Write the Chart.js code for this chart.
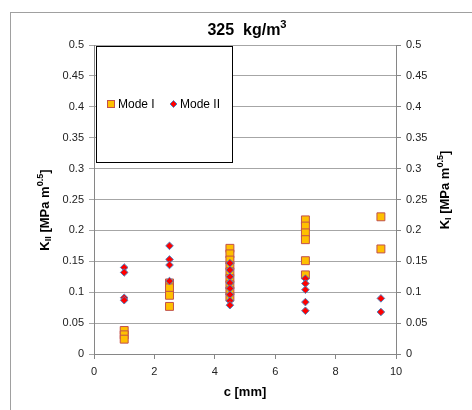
<!DOCTYPE html>
<html>
<head>
<meta charset="utf-8">
<script src="https://cdn.jsdelivr.net/npm/chart.js@4.4.0/dist/chart.umd.min.js"></script>
<style>
  html, body { margin: 0; padding: 0; background: #fff; }
  #wrap { width: 472px; height: 410px; position: relative; }
</style>
</head>
<body>
<div id="wrap"><canvas id="mycanvas" width="472" height="410"></canvas></div>
<script>
// crack length c [mm] and stress intensity values
var modeIX = [1, 1, 1,
	2.5, 2.5, 2.5, 2.5,
	4.5, 4.5, 4.5, 4.5, 4.5, 4.5, 4.5, 4.5, 4.5,
	7, 7, 7, 7, 7, 7,
	9.5, 9.5];
var modeIY = [0.038, 0.031, 0.024,
	0.115, 0.107, 0.095, 0.077,
	0.171, 0.162, 0.152, 0.143, 0.133, 0.122, 0.112, 0.102, 0.092,
	0.217, 0.207, 0.196, 0.185, 0.151, 0.128,
	0.222, 0.170];

var modeIIX = [1, 1, 1, 1,
	2.5, 2.5, 2.5, 2.5,
	4.5, 4.5, 4.5, 4.5, 4.5, 4.5, 4.5, 4.5,
	7, 7, 7, 7, 7,
	9.5, 9.5];
var modeIIY = [0.140, 0.132, 0.091, 0.087,
	0.175, 0.153, 0.144, 0.118,
	0.147, 0.136, 0.125, 0.115, 0.106, 0.096, 0.086, 0.079,
	0.122, 0.114, 0.104, 0.084, 0.070,
	0.090, 0.068];

var xTicks = [0, 2, 4, 6, 8, 10];
var yTickLabels = ['0', '0.05', '0.1', '0.15', '0.2', '0.25', '0.3', '0.35', '0.4', '0.45', '0.5'];
var seriesNames = ['Mode I', 'Mode II'];

var FONT = "'Liberation Sans', Arial, sans-serif";

function toPoints(xs, ys) {
	var pts = [];
	for (var i in xs) {
		pts.push({x: xs[i], y: ys[i]});
	}
	return pts;
}

function yLabel(value) {
	var idx = Math.round(value / 0.05);
	return yTickLabels[idx] !== undefined ? yTickLabels[idx] : '';
}

// text with sub/superscripts, centred on (x, y), optionally rotated
function drawRich(ctx, parts, x, y, size, rotate) {
	ctx.save();
	ctx.translate(x, y);
	if (rotate) ctx.rotate(-Math.PI / 2);
	var total = 0;
	parts.forEach(function(p) {
		var fs = p.s ? size * 0.7 : size;
		ctx.font = 'bold ' + fs + 'px ' + FONT;
		p.w = ctx.measureText(p.t).width;
		total += p.w;
	});
	var cx = -total / 2;
	ctx.fillStyle = '#000';
	ctx.textBaseline = 'middle';
	ctx.textAlign = 'left';
	parts.forEach(function(p) {
		var fs = p.s ? size * 0.7 : size;
		ctx.font = 'bold ' + fs + 'px ' + FONT;
		var dy = p.s === -1 ? size * 0.3 : (p.s === 1 ? -size * 0.35 : 0);
		ctx.fillText(p.t, cx, dy);
		cx += p.w;
	});
	ctx.restore();
}

var decor = {
	id: 'decor',
	beforeDraw: function(chart) {
		var ctx = chart.ctx;
		ctx.save();
		ctx.strokeStyle = '#a0a0a0';
		ctx.lineWidth = 1;
		ctx.strokeRect(10.5, 12.5, 480, 420);
		ctx.restore();
	},
	afterDatasetsDraw: function(chart) {
		var ctx = chart.ctx;
		ctx.save();
		// legend box
		ctx.fillStyle = '#fff';
		ctx.fillRect(96, 46, 136, 116);
		ctx.strokeStyle = '#000';
		ctx.lineWidth = 1;
		ctx.strokeRect(96.5, 46.5, 136, 116);
		var ly = 104;
		var ds = chart.data.datasets;
		// Mode I marker
		ctx.fillStyle = ds[0].backgroundColor;
		ctx.strokeStyle = ds[0].borderColor;
		ctx.fillRect(107, ly - 4, 8, 8);
		ctx.strokeRect(107.5, ly - 3.5, 7, 7);
		ctx.fillStyle = '#000';
		ctx.font = '12px ' + FONT;
		ctx.textBaseline = 'middle';
		ctx.fillText(ds[0].label, 118, ly + 1);
		// Mode II marker
		ctx.beginPath();
		ctx.moveTo(173.5, ly - 3.5);
		ctx.lineTo(177, ly);
		ctx.lineTo(173.5, ly + 3.5);
		ctx.lineTo(170, ly);
		ctx.closePath();
		ctx.fillStyle = ds[1].backgroundColor;
		ctx.fill();
		ctx.strokeStyle = ds[1].borderColor;
		ctx.stroke();
		ctx.fillStyle = '#000';
		ctx.fillText(ds[1].label, 180, ly + 1);
		ctx.restore();
	},
	afterDraw: function(chart) {
		var ctx = chart.ctx;
		// chart title
		drawRich(ctx, [{t: '325  kg/m'}, {t: '3', s: 1}], 247, 31, 16, false);
		// axis titles
		drawRich(ctx, [{t: 'K'}, {t: 'II', s: -1}, {t: ' [MPa m'}, {t: '0.5', s: 1}, {t: ']'}], 45, 210, 13, true);
		drawRich(ctx, [{t: 'K'}, {t: 'I', s: -1}, {t: ' [MPa m'}, {t: '0.5', s: 1}, {t: ']'}], 445, 190, 13, true);
		drawRich(ctx, [{t: 'c [mm]'}], 245, 392, 13, false);
	}
};

var chartdata = {
	datasets: [
		{
			label: seriesNames[0],
			data: toPoints(modeIX, modeIY),
			backgroundColor: '#FFC000',
			borderColor: '#C0504D',
			borderWidth: 1,
			pointStyle: 'rect',
			pointRadius: 5.6,
			pointHoverRadius: 5.6,
			yAxisID: 'y',
			order: 2
		},
		{
			label: seriesNames[1],
			data: toPoints(modeIIX, modeIIY),
			backgroundColor: '#FF0000',
			borderColor: '#4F81BD',
			borderWidth: 1,
			pointStyle: 'rectRot',
			pointRadius: 3.8,
			pointHoverRadius: 3.8,
			yAxisID: 'y',
			order: 1
		}
	]
};

var ctx = document.getElementById('mycanvas');

var scatter = new Chart(ctx, {
	type: 'scatter',
	data: chartdata,
	plugins: [decor],
	options: {
		responsive: false,
		animation: false,
		devicePixelRatio: 1,
		layout: { padding: { left: 0, right: 0, top: 45, bottom: 0 } },
		plugins: {
			legend: { display: false },
			tooltip: { enabled: false }
		},
		scales: {
			x: {
				type: 'linear',
				min: 0,
				max: 10,
				afterBuildTicks: function(scale) {
					scale.ticks = xTicks.map(function(v) { return {value: v}; });
				},
				afterFit: function(scale) { scale.height = 56; },
				grid: { display: true, drawOnChartArea: false, tickLength: 5, color: '#868686' },
				border: { color: '#868686' },
				ticks: { padding: 6, color: '#222', font: { family: FONT, size: 11 } }
			},
			y: {
				position: 'left',
				min: 0,
				max: 0.5,
				afterFit: function(scale) { scale.width = 94; },
				grid: { color: '#a6a6a6', tickLength: 5 },
				border: { color: '#868686' },
				ticks: { stepSize: 0.05, padding: 5, color: '#222', font: { family: FONT, size: 11 }, callback: yLabel }
			},
			y2: {
				position: 'right',
				min: 0,
				max: 0.5,
				afterFit: function(scale) { scale.width = 76; },
				grid: { drawOnChartArea: false, tickLength: 5, color: '#868686' },
				border: { color: '#868686' },
				ticks: { stepSize: 0.05, padding: 5, color: '#222', font: { family: FONT, size: 11 }, callback: yLabel }
			}
		}
	}
});
</script>
</body>
</html>
